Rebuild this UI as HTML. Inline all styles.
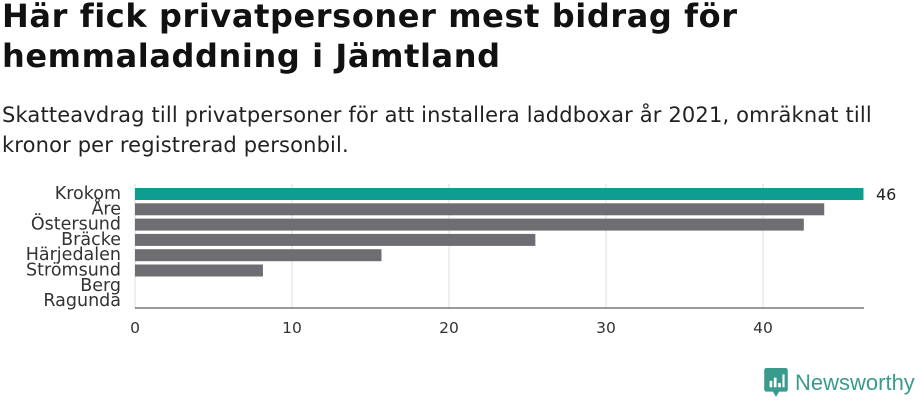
<!DOCTYPE html>
<html><head><meta charset="utf-8"><style>
body{margin:0;width:920px;height:400px;background:#fff;font-family:"DejaVu Sans","Liberation Sans",sans-serif;overflow:hidden;position:relative}
h1{position:absolute;left:2px;top:-4px;margin:0;font-size:32px;line-height:40px;font-weight:bold;color:#111;letter-spacing:0.6px;white-space:nowrap}
p{position:absolute;left:2px;top:100px;margin:0;font-size:21px;line-height:30px;color:#222;letter-spacing:0.15px;white-space:nowrap}
</style></head><body>
<h1>Här fick privatpersoner mest bidrag för<br>hemmaladdning i Jämtland</h1>
<p>Skatteavdrag till privatpersoner för att installera laddboxar år 2021, omräknat till<br>kronor per registrerad personbil.</p>
<svg id="chart" width="920" height="400" style="position:absolute;left:0;top:0"></svg>
<div style="position:absolute;left:764px;top:368px;display:flex;align-items:center;gap:7px">
<svg width="24" height="30" viewBox="0 0 22 28"><path d="M2 0h18a2 2 0 0 1 2 2v18a2 2 0 0 1-2 2h-6l-3 5-3-5H2a2 2 0 0 1-2-2V2a2 2 0 0 1 2-2z" fill="#3a9a8e"/><rect x="5" y="12" width="2.5" height="6" fill="#fff"/><rect x="9" y="9" width="2.5" height="9" fill="#fff"/><rect x="13" y="14" width="2.5" height="4" fill="#fff"/><rect x="17" y="6" width="2" height="12" fill="#fff"/></svg>
<span style="font-family:'Liberation Sans',sans-serif;font-size:22px;color:#3a9a8e">Newsworthy</span></div>
<script>
const categories=["Krokom","Åre","Östersund","Bräcke","Härjedalen","Strömsund","Berg","Ragunda"];
const values=[46.4,43.9,42.6,25.5,15.7,8.15,0,0];
const ticks=[0,10,20,30,40];
const svg=document.getElementById('chart');
const NS='http://www.w3.org/2000/svg';
const x0=135,pxPer=15.7,y0=186,step=15.3,bh=12;
const xs=v=>x0+v*pxPer;
function mk(t,a){const e=document.createElementNS(NS,t);for(const k in a)e.setAttribute(k,a[k]);svg.appendChild(e);return e;}
ticks.forEach(t=>{
 const g=mk('line',{x1:xs(t),x2:xs(t),y1:184,y2:308,stroke:'#ddd','stroke-width':1});
 
 
 const l=mk('text',{x:xs(t),y:333,'text-anchor':'middle','font-size':15.5,fill:'#333'});
 l.textContent=t;
 
 
});
categories.forEach((c,i)=>{
 const y=y0+i*step;
 const l=mk('text',{x:121,y:y+13,'text-anchor':'end','font-size':17.5,fill:'#333'});
 l.textContent=c;
 
 
 if(values[i]>0){
  const r=mk('rect',{x:x0,y:y+2,width:xs(values[i])-x0,height:bh,fill:i==0?'#0e9e8f':'#6e6d72'});
  
  
 }
});
const v=mk('text',{x:876,y:y0+14,'font-size':16,fill:'#222'});
v.textContent=Math.round(values[0]);


const ax=mk('line',{x1:x0,x2:864,y1:308,y2:308,stroke:'#333','stroke-width':1});


</script>
</body></html>
